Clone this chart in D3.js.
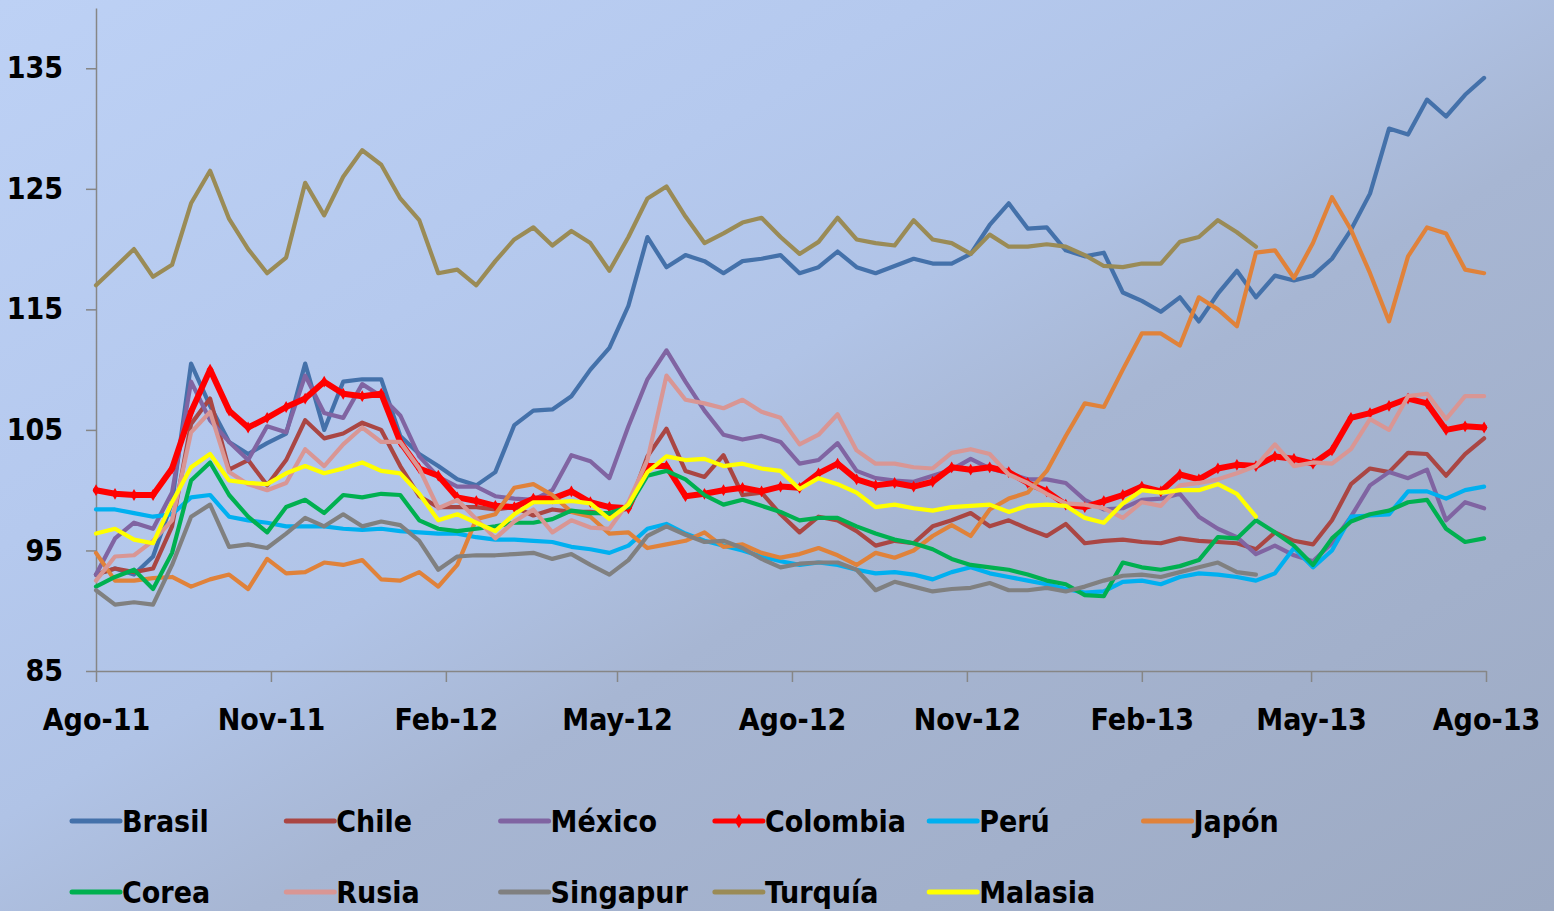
<!DOCTYPE html>
<html>
<head>
<meta charset="utf-8">
<script src="https://cdn.jsdelivr.net/npm/d3@7/dist/d3.min.js"></script>
<style>
  html, body { margin: 0; padding: 0; background: #a9b8d6; }
  svg { display: block; }
  text { font-family: "Liberation Sans Narrow", "DejaVu Sans Condensed", "Liberation Sans", sans-serif; font-weight: bold; fill: #000; }
</style>
</head>
<body>
<svg width="1554" height="911"></svg>
<script>
// one reading every 10 days, starting 1 Aug 2011
var startDate = new Date(2011, 7, 1);
var dates = d3.range(74).map(function(i) { return d3.timeDay.offset(startDate, i * 10); });

var yTicks = [85, 95, 105, 115, 125, 135];
var xTickLabels = ["Ago-11", "Nov-11", "Feb-12", "May-12", "Ago-12", "Nov-12", "Feb-13", "May-13", "Ago-13"];
var xTickDates = xTickLabels.map(function(d, i) { return new Date(2011, 7 + 3 * i, 1); });

var names = ["Brasil", "Chile", "México", "Colombia", "Perú", "Japón", "Corea", "Rusia", "Singapur", "Turquía", "Malasia"];
var colors = ["#4471aa", "#aa4643", "#8064a2", "#ff0000", "#00b0f0", "#e0823a", "#00b050", "#d99694", "#808080", "#9a8b56", "#ffff00"];

var brasil = [93.0,93.5,93.0,94.5,99.0,110.5,107.0,104.0,103.0,103.9,104.7,110.5,105.0,109.0,109.2,109.2,104.5,103.0,102.0,100.9,
  100.4,101.5,105.4,106.6,106.7,107.8,110.0,111.8,115.3,121.0,118.5,119.5,119.0,118.0,119.0,119.2,119.5,118.0,118.5,119.8,
  118.5,118.0,118.6,119.2,118.8,118.8,119.6,122.0,123.8,121.7,121.8,119.9,119.4,119.7,116.4,115.7,114.8,116.0,114.0,116.3,
  118.2,116.0,117.8,117.4,117.8,119.2,121.6,124.6,130.0,129.5,132.4,131.0,132.8,134.2];
var chile = [93.0,93.5,93.2,93.5,97.0,105.5,107.6,101.7,102.5,100.4,102.5,105.8,104.3,104.7,105.6,105.0,102.0,99.5,98.6,98.6,
  98.6,98.4,98.6,97.9,98.4,98.2,98.2,98.0,98.5,102.8,105.1,101.6,101.1,102.9,99.6,99.8,98.0,96.5,97.8,97.5,
  96.6,95.4,95.8,95.6,97.0,97.5,98.1,97.0,97.5,96.8,96.2,97.2,95.6,95.8,95.9,95.7,95.6,96.0,95.8,95.7,
  95.6,95.1,96.5,95.8,95.5,97.5,100.5,101.8,101.5,103.1,103.0,101.2,103.0,104.3];
var mexico = [93.0,96.0,97.3,96.8,99.8,109.0,105.8,104.0,102.5,105.3,104.8,109.5,106.4,106.0,108.8,107.8,106.2,102.8,101.1,100.3,
  100.3,99.5,99.3,99.2,100.0,102.9,102.4,101.0,105.3,109.2,111.6,109.0,106.6,104.6,104.2,104.5,104.0,102.2,102.5,103.9,
  101.6,101.0,100.8,100.7,101.2,101.7,102.6,101.8,101.4,100.9,100.9,100.6,99.2,98.4,98.5,99.2,99.3,99.7,97.8,96.8,
  96.1,94.7,95.4,94.6,94.1,95.6,97.8,100.4,101.5,101.0,101.7,97.5,99.0,98.5];
var colombia = [100.0,99.7,99.6,99.6,101.8,106.5,110.0,106.6,105.2,106.0,106.9,107.6,109.0,108.0,107.8,108.0,104.0,101.8,101.2,99.4,
  99.1,98.7,98.6,99.3,99.3,99.9,99.0,98.6,98.5,102.0,102.0,99.5,99.7,100.0,100.2,99.9,100.3,100.2,101.4,102.2,
  100.9,100.4,100.6,100.3,100.7,101.9,101.7,101.9,101.5,100.6,99.9,98.8,98.6,99.1,99.6,100.3,99.9,101.3,100.9,101.8,
  102.1,102.0,102.8,102.6,102.2,103.3,106.0,106.4,107.0,107.6,107.2,105.0,105.3,105.2];
var peru = [98.4,98.4,98.1,97.8,98.0,99.4,99.6,97.8,97.5,97.3,97.0,97.0,97.0,96.8,96.7,96.8,96.6,96.5,96.4,96.4,
  96.1,95.9,95.9,95.8,95.7,95.3,95.1,94.8,95.4,96.8,97.2,96.4,95.8,95.4,95.0,94.5,94.1,93.8,94.0,93.8,
  93.4,93.1,93.2,93.0,92.6,93.2,93.6,93.1,92.8,92.5,92.2,91.8,91.5,91.6,92.4,92.5,92.2,92.8,93.1,93.0,
  92.8,92.5,93.1,95.2,93.6,95.0,97.8,97.9,98.0,99.9,99.9,99.3,100.0,100.3];
var japon = [94.8,92.5,92.5,92.7,92.8,92.0,92.6,93.0,91.8,94.3,93.1,93.2,94.0,93.8,94.2,92.6,92.5,93.2,92.0,93.8,
  97.6,98.0,100.2,100.5,99.6,98.2,97.8,96.4,96.5,95.2,95.5,95.8,96.5,95.3,95.5,94.8,94.4,94.7,95.2,94.6,
  93.8,94.8,94.4,95.0,96.2,97.1,96.2,98.4,99.3,99.8,101.6,104.5,107.2,106.9,110.0,113.0,113.0,112.0,116.0,115.0,
  113.6,119.7,119.9,117.6,120.5,124.3,121.6,118.0,114.0,119.4,121.8,121.3,118.3,118.0];
var corea = [92.0,92.8,93.4,91.8,94.8,100.8,102.3,99.6,97.8,96.5,98.6,99.2,98.1,99.6,99.4,99.7,99.6,97.5,96.8,96.6,
  96.8,97.0,97.3,97.3,97.6,98.3,98.1,98.1,98.6,101.2,101.6,100.9,99.6,98.8,99.2,98.7,98.2,97.5,97.7,97.7,
  97.0,96.4,95.9,95.6,95.1,94.3,93.8,93.6,93.4,93.0,92.5,92.2,91.3,91.2,94.0,93.6,93.4,93.7,94.2,96.1,
  96.0,97.5,96.5,95.4,93.8,96.0,97.4,98.0,98.3,99.0,99.2,96.8,95.7,96.0];
var rusia = [92.5,94.5,94.6,95.8,97.5,104.8,106.5,101.5,100.5,100.0,100.6,103.4,102.0,103.8,105.2,104.0,104.0,101.8,98.5,99.2,
  97.6,96.0,97.4,98.4,96.5,97.5,96.9,96.8,99.0,102.5,109.5,107.5,107.2,106.8,107.5,106.5,106.0,103.8,104.6,106.3,
  103.3,102.2,102.2,101.9,101.8,103.1,103.4,103.0,101.3,100.6,99.7,98.9,98.8,98.5,97.7,99.0,98.7,100.4,100.6,100.9,
  101.4,102.0,103.8,102.0,102.3,102.2,103.4,105.9,105.0,107.8,108.0,105.9,107.8,107.8];
var singapur = [91.7,90.5,90.7,90.5,93.8,97.8,98.8,95.3,95.5,95.2,96.4,97.7,97.0,98.0,97.0,97.4,97.1,95.8,93.4,94.5,
  94.6,94.6,94.7,94.8,94.3,94.7,93.8,93.0,94.2,96.2,97.0,96.3,95.7,95.8,95.2,94.3,93.6,93.9,94.0,94.0,
  93.4,91.7,92.4,92.0,91.6,91.8,91.9,92.3,91.7,91.7,91.9,91.6,92.0,92.5,92.9,93.0,92.8,93.2,93.6,94.0,
  93.2,93.0];
var turquia = [117.0,118.5,120.0,117.7,118.7,123.8,126.5,122.5,120.0,118.0,119.3,125.5,122.8,126.0,128.2,127.0,124.2,122.4,118.0,118.3,
  117.0,119.0,120.8,121.8,120.3,121.5,120.5,118.2,121.0,124.2,125.2,122.7,120.5,121.3,122.2,122.6,121.0,119.6,120.6,122.6,
  120.8,120.5,120.3,122.4,120.8,120.5,119.6,121.2,120.2,120.2,120.4,120.2,119.5,118.6,118.5,118.8,118.8,120.6,121.0,122.4,
  121.4,120.2];
var malasia = [96.4,96.8,95.9,95.6,99.0,101.9,103.0,100.8,100.6,100.5,101.4,102.0,101.4,101.8,102.3,101.6,101.4,99.7,97.5,98.0,
  97.3,96.6,98.0,99.0,99.0,99.1,98.9,97.6,98.8,101.5,102.8,102.5,102.6,102.0,102.2,101.8,101.6,100.1,101.0,100.5,
  99.8,98.6,98.8,98.5,98.3,98.6,98.7,98.8,98.2,98.7,98.8,98.7,97.7,97.3,98.9,100.0,99.8,100.0,100.0,100.5,
  99.7,97.8];

var seriesValues = [brasil, chile, mexico, colombia, peru, japon, corea, rusia, singapur, turquia, malasia];

var svg = d3.select("svg");
var width = +svg.attr("width"), height = +svg.attr("height");

// background
var defs = svg.append("defs");
var grad = defs.append("linearGradient").attr("id", "bg")
  .attr("x1", "0").attr("y1", "0").attr("x2", "1").attr("y2", "1");
grad.append("stop").attr("offset", "0%").attr("stop-color", "#bdd1f5");
grad.append("stop").attr("offset", "30%").attr("stop-color", "#b5c9ee");
grad.append("stop").attr("offset", "45%").attr("stop-color", "#b0c3e6");
grad.append("stop").attr("offset", "58%").attr("stop-color", "#a7b6d3");
grad.append("stop").attr("offset", "100%").attr("stop-color", "#9daac3");
svg.append("rect").attr("width", width).attr("height", height).attr("fill", "url(#bg)");

var x = d3.scaleTime().domain([new Date(2011, 7, 1), new Date(2013, 7, 1)]).range([96, 1486]);
var y = d3.scaleLinear().domain([85, 140]).range([671, 8]);

var yAxis = svg.append("g").attr("transform", "translate(96,0)")
  .call(d3.axisLeft(y).tickValues(yTicks).tickSize(10).tickSizeOuter(0).tickPadding(23));
var xAxis = svg.append("g").attr("transform", "translate(0,671)")
  .call(d3.axisBottom(x).tickValues(xTickDates).tickSize(11).tickSizeOuter(0).tickPadding(27)
    .tickFormat(function(d, i) { return xTickLabels[i]; }));

[yAxis, xAxis].forEach(function(g) {
  g.select(".domain").attr("stroke", "#868686").attr("stroke-width", 1.5);
  g.selectAll(".tick line").attr("stroke", "#868686").attr("stroke-width", 1.5);
  g.selectAll(".tick text").style("font-size", "30px").attr("fill", "#000");
});

var line = d3.line()
  .x(function(d, i) { return x(dates[i]); })
  .y(function(d) { return y(d); });

var plot = svg.append("g");
seriesValues.forEach(function(vals, k) {
  plot.append("path")
    .datum(vals)
    .attr("fill", "none")
    .attr("stroke", colors[k])
    .attr("stroke-width", k === 3 ? 6 : 4.2)
    .attr("stroke-linejoin", "round")
    .attr("stroke-linecap", "round")
    .attr("d", line);
  if (k === 3) {
    plot.selectAll(".diamond")
      .data(vals)
      .enter().append("path")
        .attr("class", "diamond")
        .attr("fill", colors[k])
        .attr("d", d3.symbol().type(d3.symbolDiamond).size(40))
        .attr("transform", function(d, i) { return "translate(" + x(dates[i]) + "," + y(d) + ")"; });
  }
});

// legend, two rows of six
var legend = svg.append("g");
var items = legend.selectAll("g")
  .data(names)
  .enter().append("g")
    .attr("transform", function(d, i) { return "translate(" + (72 + (i % 6) * 214.3) + "," + (i < 6 ? 821 : 892) + ")"; });
items.append("line")
  .attr("x1", 0).attr("x2", 48)
  .attr("stroke", function(d, i) { return colors[i]; })
  .attr("stroke-width", 5)
  .attr("stroke-linecap", "round");
items.filter(function(d) { return d === "Colombia"; }).append("path")
  .attr("fill", colors[3])
  .attr("d", d3.symbol().type(d3.symbolDiamond).size(60))
  .attr("transform", "translate(24,0)");
items.append("text")
  .attr("x", 50).attr("dy", "0.35em")
  .style("font-size", "30px")
  .text(function(d) { return d; });
</script>
</body>
</html>
